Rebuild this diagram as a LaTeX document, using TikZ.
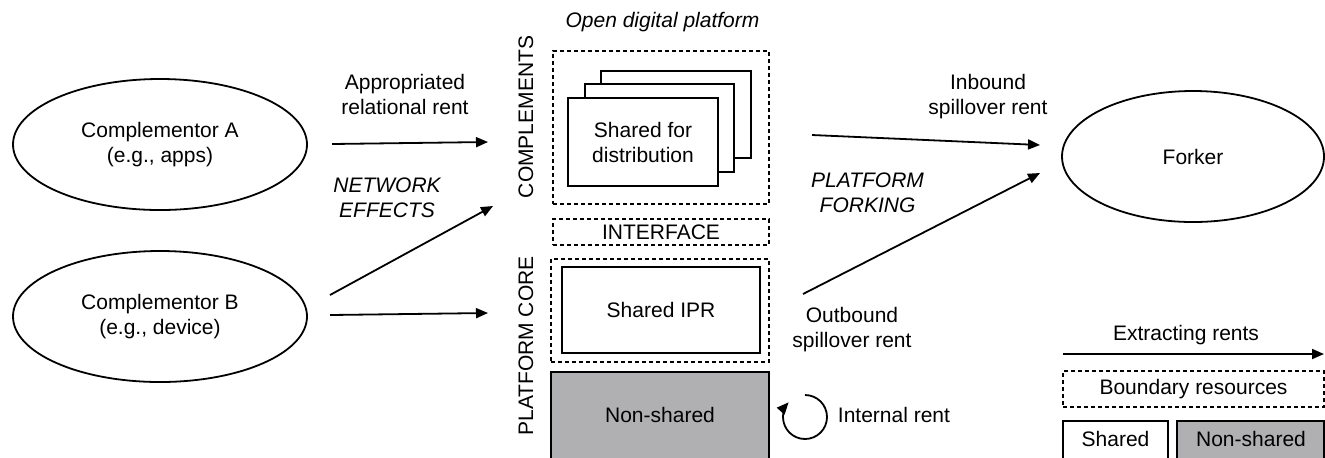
\documentclass[tikz,border=0pt]{standalone}
\usepackage{fontspec}
\setmainfont{Liberation Sans}
\usetikzlibrary{arrows.meta,shapes.geometric}
\definecolor{nsgray}{RGB}{176,176,179}
\begin{document}
\begin{tikzpicture}[x=0.5pt,y=-0.5pt,
  font=\fontsize{10.5}{12.5}\selectfont,
  line width=0.9pt,
  arr/.style={-{Triangle[length=6pt,width=5pt]}},
  dbox/.style={draw, dash pattern=on 2pt off 1.5pt, inner sep=0pt},
  sbox/.style={draw, fill=white, inner sep=0pt, align=center},
  ell/.style={draw, ellipse, inner sep=0pt, align=center, minimum height=65.5pt},
  lbl/.style={align=center, inner sep=0pt},
  itl/.style={align=center, inner sep=0pt, font=\fontsize{10.5}{12.5}\selectfont\itshape},
]
\useasboundingbox (0,0) rectangle (1325,457);
\begin{scope}
\clip (0,0) rectangle (1325,457);

% ellipses
\node[ell, minimum width=147pt] (compA) at (160,144.5) {Complementor A\\(e.g., apps)};
\node[ell, minimum width=147pt] (compB) at (160,316.5) {Complementor B\\(e.g., device)};
\node[ell, minimum width=131pt] (forker) at (1193,156.5) {Forker};

% platform
\node[itl, anchor=base] (odp) at (662.5,27) {Open digital platform};
\node[dbox, minimum width=108pt, minimum height=76.5pt] (compl) at (661,127.5) {};
\node[sbox, minimum width=75pt, minimum height=43.5pt] (st3) at (676,114.5) {};
\node[sbox, minimum width=74.5pt, minimum height=44pt] (st2) at (659.5,128) {};
\node[sbox, minimum width=75pt, minimum height=44pt] (st1) at (643,142) {Shared for\\distribution};
\node[dbox, minimum width=108pt, minimum height=13pt] (iface) at (661,232) {INTERFACE};
\node[dbox, minimum width=109pt, minimum height=51.5pt] (core) at (660,310.5) {};
\node[sbox, minimum width=99pt, minimum height=43pt] (ipr) at (661,310) {Shared IPR};
\draw[fill=nsgray] (551,372) rectangle (769,480);
\node[lbl] (nonshared) at (660,415) {Non-shared};
\node[lbl, rotate=90, anchor=base] (complt) at (533,117) {COMPLEMENTS};
\node[lbl, rotate=90, anchor=base] (coret) at (533,346) {PLATFORM CORE};

% labels
\node[lbl] (appr) at (405,94) {Appropriated\\relational rent};
\node[itl] (net) at (387,197.5) {NETWORK\\EFFECTS};
\node[lbl] (inb) at (988,97) {Inbound\\spillover rent};
\node[itl] (fork) at (867.5,192.5) {PLATFORM\\FORKING};
\node[lbl] (outb) at (852,329.5) {Outbound\\spillover rent};
\node[lbl, anchor=base west] (intr) at (837,422) {Internal rent};

% arrow end points
\coordinate (a1s) at (332,144);  \coordinate (a1e) at (488,142);
\coordinate (a2s) at (330,295);  \coordinate (a2e) at (493,206);
\coordinate (a3s) at (330,315);  \coordinate (a3e) at (488,313);
\coordinate (a4s) at (812,135);  \coordinate (a4e) at (1040,145);
\coordinate (a5s) at (803,294);  \coordinate (a5e) at (1040,173);
\draw[arr] (a1s) -- (a1e);
\draw[arr] (a2s) -- (a2e);
\draw[arr] (a3s) -- (a3e);
\draw[arr] (a4s) -- (a4e);
\draw[arr] (a5s) -- (a5e);

% internal rent loop
\coordinate (loopc) at (805,417);
\draw[arr] ([shift={(90:11pt)}]loopc) arc[start angle=90, end angle=-222, radius=11pt];

% legend
\node[lbl, anchor=base] (extr) at (1186,340) {Extracting rents};
\coordinate (lgs) at (1063,354); \coordinate (lge) at (1324,354);
\draw[arr] (lgs) -- (lge);
\node[dbox, minimum width=130.5pt, minimum height=18pt] (bres) at (1193.5,389) {Boundary resources};
\draw (1063,421) rectangle (1168,480);
\node[lbl] (lshared) at (1115.5,439) {Shared};
\draw[fill=nsgray] (1177,421) rectangle (1324,480);
\node[lbl] (lnonshared) at (1251,439) {Non-shared};
\end{scope}
\end{tikzpicture}
\end{document}
